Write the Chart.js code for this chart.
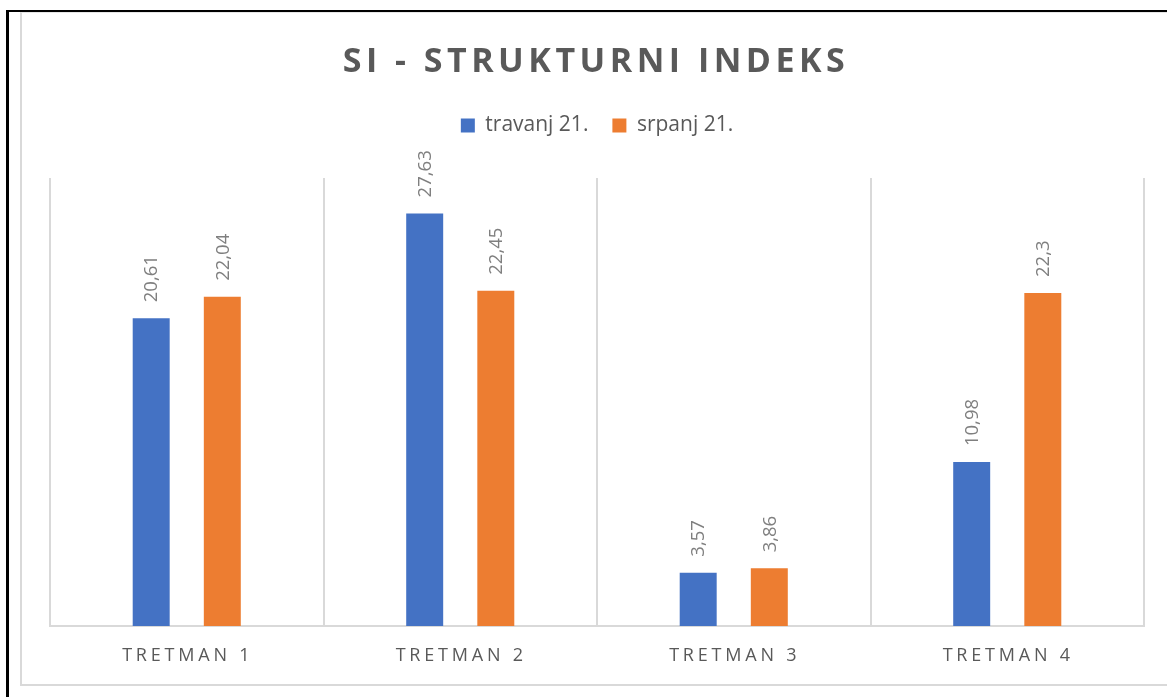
<!DOCTYPE html>
<html lang="hr">
<head>
  <meta charset="UTF-8" />
  <title>SI - strukturni indeks</title>
  <script src="https://cdn.jsdelivr.net/npm/chart.js"></script>
  <style>
    body { margin: 0; background: #fff; overflow: hidden; }
    .frame { position: absolute; left: 6px; top: 10px; width: 1200px; height: 720px; border-left: 3px solid #000; border-top: 2px solid #000; }
    .inner { position: absolute; left: 20px; top: 12px; width: 1200px; height: 671px; border-left: 2px solid #d9d9d9; border-top: 1px solid #e6e6e6; border-bottom: 2px solid #d9d9d9; }
    .wrap { position: absolute; left: 0; top: 0; width: 1167px; height: 697px; }
  </style>
</head>
<body>
  <div class="frame"></div>
  <div class="inner"></div>
  <div class="wrap"><canvas id="chart" width="1167" height="697"></canvas></div>

  <script>
    // podaci
    const chartTitle = 'SI - STRUKTURNI INDEKS';
    const categories = ['TRETMAN 1', 'TRETMAN 2', 'TRETMAN 3', 'TRETMAN 4'];
    const seriesNames = ['travanj 21.', 'srpanj 21.'];
    const travanj = [20.61, 27.63, 3.57, 10.98];
    const srpanj = [22.04, 22.45, 3.86, 22.3];

    const textGrey = '#595959';

    // naslov + oznake kategorija s razmakom slova, vrijednosti iznad stupaca
    const labelsPlugin = {
      id: 'labelsPlugin',
      beforeInit(chart) {
        const fit = chart.legend.fit;
        chart.legend.fit = function () {
          fit.bind(chart.legend)();
          this.height += 32;
        };
      },
      afterDatasetsDraw(chart) {
        const ctx = chart.ctx;
        ctx.save();
        ctx.fillStyle = '#7f7f7f';
        ctx.font = '18.5px "Open Sans"';
        ctx.textAlign = 'left';
        ctx.textBaseline = 'middle';
        chart.data.datasets.forEach((ds, i) => {
          chart.getDatasetMeta(i).data.forEach((bar, j) => {
            ctx.save();
            ctx.translate(bar.x + 1, bar.y - 16);
            ctx.rotate(-Math.PI / 2);
            ctx.fillText(String(ds.data[j]).replace('.', ','), 0, 0);
            ctx.restore();
          });
        });
        ctx.restore();
      },
      afterDraw(chart) {
        const ctx = chart.ctx;
        const area = chart.chartArea;
        const x = chart.scales.x;
        ctx.save();
        ctx.fillStyle = textGrey;
        ctx.textAlign = 'center';
        ctx.textBaseline = 'alphabetic';

        ctx.letterSpacing = '3.8px';
        ctx.font = '18px "Open Sans"';
        categories.forEach((c, i) => {
          ctx.fillText(c, x.getPixelForTick(i) + 1, area.bottom + 35);
        });

        ctx.letterSpacing = '4.5px';
        ctx.font = 'bold 34px "Open Sans"';
        ctx.fillText(chartTitle, (area.left + area.right) / 2 - 1, 72);
        ctx.restore();
      }
    };

    new Chart(document.getElementById('chart'), {
      type: 'bar',
      data: {
        labels: categories,
        datasets: [
          { label: seriesNames[0], data: travanj, backgroundColor: '#4472c4', categoryPercentage: 0.52, barPercentage: 0.52 },
          { label: seriesNames[1], data: srpanj, backgroundColor: '#ed7d31', categoryPercentage: 0.52, barPercentage: 0.52 }
        ]
      },
      options: {
        responsive: false,
        animation: false,
        layout: { padding: { top: 91, left: 50, right: 23, bottom: 71 } },
        plugins: {
          title: { display: false },
          tooltip: { enabled: false },
          legend: {
            position: 'top',
            labels: {
              boxWidth: 14,
              boxHeight: 14,
              padding: 24,
              color: textGrey,
              font: { family: '"Open Sans"', size: 21 }
            }
          }
        },
        scales: {
          x: {
            offset: true,
            grid: { offset: true, color: '#d9d9d9', lineWidth: 2, drawTicks: false },
            border: { display: true, color: '#d9d9d9', width: 2 },
            ticks: { display: false }
          },
          y: {
            display: false,
            min: 0,
            max: 30
          }
        }
      },
      plugins: [labelsPlugin]
    });
  </script>
</body>
</html>
